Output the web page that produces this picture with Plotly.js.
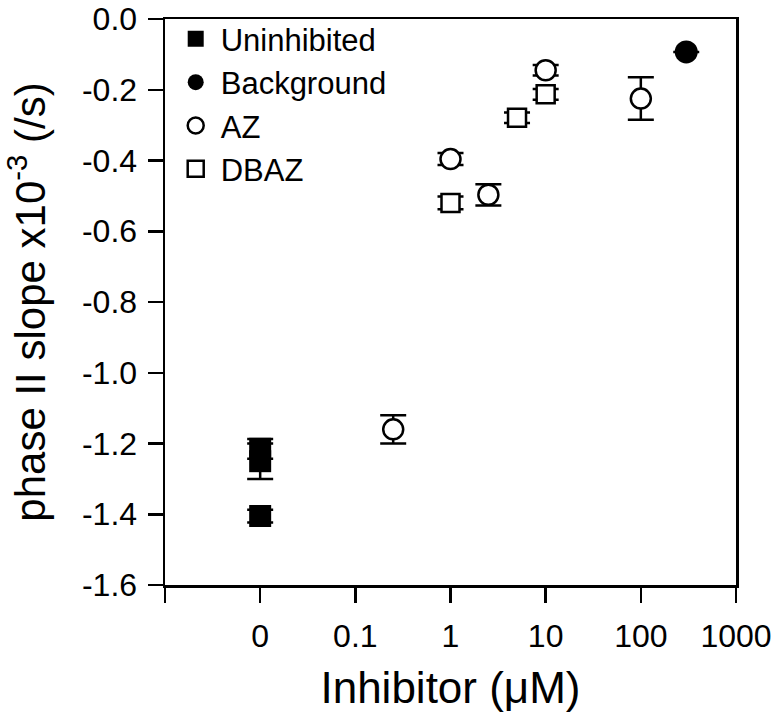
<!DOCTYPE html>
<html>
<head>
<meta charset="utf-8">
<script src="https://cdn.plot.ly/plotly-3.0.1.min.js"></script>
<style>html,body{margin:0;padding:0;background:#fff;}#chart{width:776px;height:718px;}</style>
</head>
<body>
<div id="chart"></div>
<script>
// Concentration 0 is drawn at the "0" break of the log axis (0.01)
const ZERO_AXIS_POS = 0.01;

const uninhibitedX = [0, 0, 0];
const uninhibitedY = [-1.215, -1.25, -1.405];
const uninhibitedErr = [0.028, 0.05, 0.018];

const backgroundX = [300];
const backgroundY = [-0.093];
const backgroundErr = [0];

const azX = [0.25, 1, 2.5, 10, 100];
const azY = [-1.16, -0.396, -0.497, -0.145, -0.225];
const azErr = [0.04, 0.017, 0.03, 0.015, 0.06];

const dbazX = [1, 5, 10];
const dbazY = [-0.52, -0.279, -0.213];
const dbazErr = [0.018, 0.015, 0.015];

const xTickVals = [0.001, 0.01, 0.1, 1, 10, 100, 1000];
const xTickText = ['', '0', '0.1', '1', '10', '100', '1000'];
const yTickVals = [0, -0.2, -0.4, -0.6, -0.8, -1.0, -1.2, -1.4, -1.6];
const yTickText = ['0.0', '-0.2', '-0.4', '-0.6', '-0.8', '-1.0', '-1.2', '-1.4', '-1.6'];

const mapX = arr => arr.map(v => v === 0 ? ZERO_AXIS_POS : v);

function errBar(arr) {
  return {type: 'data', array: arr, visible: true, color: '#000', thickness: 2.5, width: 13};
}

const traces = [
  {
    name: 'Uninhibited', x: mapX(uninhibitedX), y: uninhibitedY, mode: 'markers', type: 'scatter',
    marker: {symbol: 'square', size: 22, color: '#000', line: {width: 0}},
    error_y: errBar(uninhibitedErr)
  },
  {
    name: 'Background', x: mapX(backgroundX), y: backgroundY, mode: 'markers', type: 'scatter',
    marker: {symbol: 'circle', size: 23, color: '#000', line: {width: 0}},
    error_y: errBar(backgroundErr)
  },
  {
    name: 'AZ', x: mapX(azX), y: azY, mode: 'markers', type: 'scatter',
    marker: {symbol: 'circle', size: 20, color: '#fff', line: {width: 2.5, color: '#000'}},
    error_y: errBar(azErr)
  },
  {
    name: 'DBAZ', x: mapX(dbazX), y: dbazY, mode: 'markers', type: 'scatter',
    marker: {symbol: 'square', size: 18, color: '#fff', line: {width: 2.5, color: '#000'}},
    error_y: errBar(dbazErr)
  }
];

const layout = {
  width: 776, height: 718,
  margin: {l: 165, r: 40, t: 15, b: 133, pad: 0},
  paper_bgcolor: '#fff', plot_bgcolor: '#fff',
  font: {family: 'Arial, "Liberation Sans", sans-serif', color: '#000'},
  showlegend: true,
  legend: {
    x: 0.01, y: 1.012, xanchor: 'left', yanchor: 'top',
    bgcolor: 'rgba(0,0,0,0)', borderwidth: 0,
    font: {size: 31, color: '#000'}, tracegroupgap: 0, itemwidth: 40
  },
  xaxis: {
    type: 'log', range: [-3, 3],
    tickmode: 'array', tickvals: xTickVals, ticktext: xTickText,
    ticks: 'outside', ticklen: 15, tickwidth: 2.5, tickcolor: '#000',
    showline: true, linewidth: 2.5, linecolor: '#000', mirror: true,
    showgrid: false, zeroline: false, ticklabeloverflow: 'allow',
    tickfont: {size: 32, color: '#000'}, ticklabelstandoff: 6,
    title: {text: 'Inhibitor (\u03bcM)', font: {size: 44, color: '#000'}, standoff: 20}
  },
  yaxis: {
    range: [-1.6, 0],
    tickmode: 'array', tickvals: yTickVals, ticktext: yTickText,
    ticks: 'outside', ticklen: 15, tickwidth: 2.5, tickcolor: '#000',
    showline: true, linewidth: 2.5, linecolor: '#000', mirror: true,
    showgrid: false, zeroline: false, ticklabeloverflow: 'allow',
    tickfont: {size: 32, color: '#000'}, ticklabelstandoff: 4,
    title: {text: 'phase II slope x10<sup>-3</sup> (/s)', font: {size: 42, color: '#000'}, standoff: 24}
  }
};

Plotly.newPlot('chart', traces, layout, {displayModeBar: false, staticPlot: true});
</script>
</body>
</html>
